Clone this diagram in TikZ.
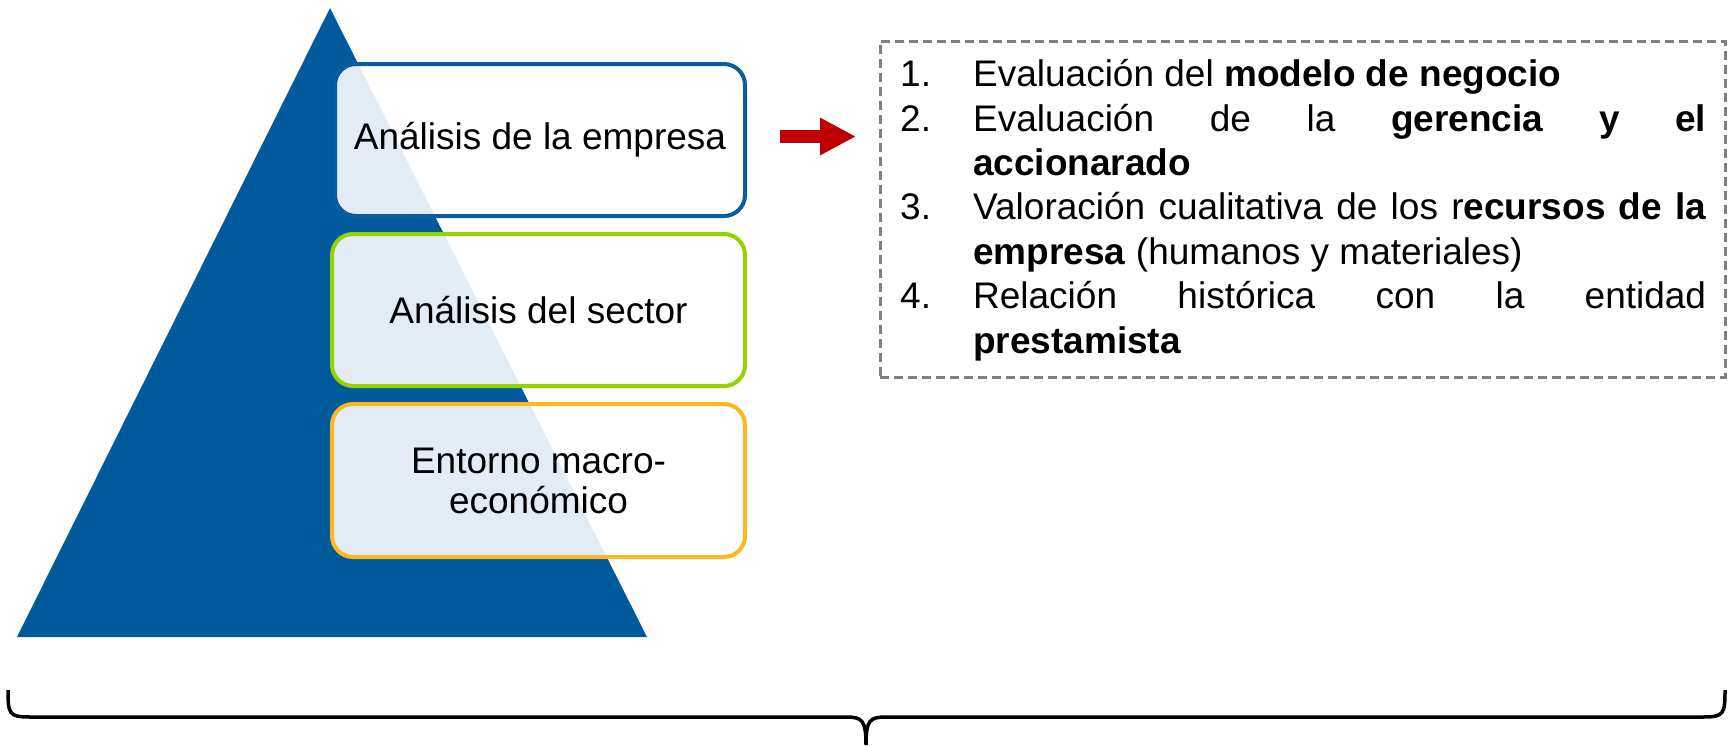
\documentclass[tikz,border=0pt]{standalone}
\usepackage{fontspec}
\setmainfont{Liberation Sans}
\usetikzlibrary{arrows.meta}
\definecolor{triblue}{HTML}{005A9C}
\definecolor{boxblue}{HTML}{0A5CA0}
\definecolor{boxgreen}{HTML}{92D400}
\definecolor{boxorange}{HTML}{FDB81E}
\definecolor{arrred}{HTML}{C00000}
\definecolor{dashgray}{HTML}{808080}
\tikzset{
  levelbox/.style={draw, line width=4pt, rounded corners=21pt, fill=white, fill opacity=0.89, text opacity=1,
    align=center, font=\fontsize{37}{40}\selectfont, inner sep=0pt},
  redarrow/.style={draw=arrred, line width=13pt, -{Triangle[length=36pt,width=35pt]}, color=arrred},
  dashbox/.style={draw=dashgray, line width=3pt, dash pattern=on 9pt off 5pt, inner sep=0pt},
  bracepath/.style={draw=black, line width=3.5pt}
}
\begin{document}
\begin{tikzpicture}[x=1pt,y=-1pt]
\useasboundingbox (0,0) rectangle (1733,745);
% pyramid
\fill[triblue] (330,8) -- (647,637) -- (17,637) -- cycle;
% level boxes
\node[levelbox, draw=boxblue, minimum width=410pt, minimum height=152pt] (b1) at (540,140) {Análisis de la empresa};
\node[levelbox, draw=boxgreen, minimum width=413pt, minimum height=152pt] (b2) at (538.5,310) {Análisis del sector};
\node[levelbox, draw=boxorange, minimum width=413pt, minimum height=153pt] (b3) at (538.5,480.5) {Entorno macro-\\económico};
% dashed list box
\node[dashbox, minimum width=845pt, minimum height=336pt] (listbox) at (1302.5,209) {};
\node[inner sep=0pt, anchor=base west] (list) at (900,86.7) {\parbox[t]{806pt}{%
  \fontsize{37}{44.4}\selectfont\hyphenpenalty=10000\exhyphenpenalty=10000\tolerance=10000\emergencystretch=0pt
  \parindent=0pt\hangindent=73pt\hangafter=1
  \makebox[73pt][l]{1.}Evaluación del \textbf{modelo de negocio}\par
  \hangindent=73pt\hangafter=1
  \makebox[73pt][l]{2.}Evaluación de la \textbf{gerencia y el}\linebreak\textbf{accionarado}\par
  \hangindent=73pt\hangafter=1
  \makebox[73pt][l]{3.}Valoración cualitativa de los r\textbf{ecursos de la empresa} (humanos y materiales)\par
  \hangindent=73pt\hangafter=1
  \makebox[73pt][l]{4.}Relación histórica con la entidad \textbf{prestamista}\par}};
% red arrow
\coordinate (aS) at (780,136.5);
\coordinate (aE) at (856,136.5);
\draw[redarrow] (aS) -- (aE);
% bottom brace
\coordinate (brL) at (8,690);
\coordinate (brT) at (866,745);
\coordinate (brR) at (1725,690);
\draw[bracepath] (brL) .. controls (8,714) and (9,717) .. (30,717) -- (846,717)
  .. controls (862,717) and (866,720) .. (brT)
  .. controls (866,720) and (870,717) .. (886,717) -- (1703,717)
  .. controls (1724,717) and (1725,714) .. (brR);
\end{tikzpicture}
\end{document}
